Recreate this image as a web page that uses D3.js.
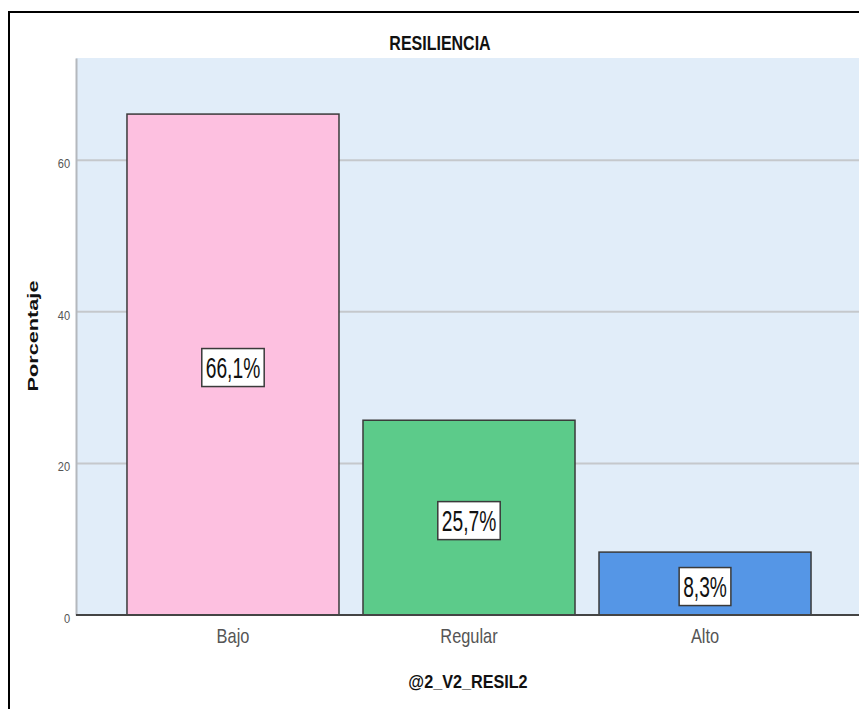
<!DOCTYPE html>
<html>
<head>
<meta charset="utf-8">
<script src="https://cdn.jsdelivr.net/npm/d3@7"></script>
<style>
  body { margin: 0; background: #fff; }
  svg { display: block; }
</style>
</head>
<body>
<div id="container"></div>
<script>
///data
const categories = ["Bajo", "Regular", "Alto"];
const percents = [66.1, 25.7, 8.3];
const labels = ["66,1%", "25,7%", "8,3%"];
const yTicks = [0, 20, 40, 60];
const barColors = ["#fdc0e0", "#5ccb8a", "#5596e6"];

///size
let w = 859,
  h = 709,
  plotL = 76,
  plotR = 862,
  plotT = 58,
  plotB = 615;

let svg = d3.select("#container").
  append("svg").
  attr("width", w).
  attr("height", h);

///outer frame
svg.append("rect").
  attr("x", 9).
  attr("y", 12).
  attr("width", 880).
  attr("height", 720).
  attr("fill", "none").
  attr("stroke", "#000").
  attr("stroke-width", 2);

///scales
let x = d3.scaleBand().
  domain(categories).
  range([plotL, plotR]).
  paddingInner(0.1017).
  paddingOuter(0.216);

let y = d3.scaleLinear().
  domain([0, 73.5]).
  range([plotB, plotT]);

///plot background
svg.append("rect").
  attr("x", plotL).
  attr("y", plotT).
  attr("width", plotR - plotL).
  attr("height", plotB - plotT).
  attr("fill", "#e1edf9");

///gridlines
svg.append("g").
  selectAll("line").
  data(yTicks.filter(d => d > 0)).
  enter().
  append("line").
  attr("x1", plotL).
  attr("x2", plotR).
  attr("y1", d => y(d)).
  attr("y2", d => y(d)).
  attr("stroke", "#c5c8cc").
  attr("stroke-width", 2);

///y axis
let yAxis = d3.axisLeft(y).tickValues(yTicks).tickSize(0).tickPadding(6);
let yG = svg.append("g").
  attr("transform", "translate(" + plotL + ",0)").
  call(yAxis);
yG.select(".domain").attr("stroke", "#b4b8bd").attr("stroke-width", 2);
yG.selectAll("text").
  attr("font-family", "Liberation Sans, Arial, sans-serif").
  attr("font-size", 13).
  attr("fill", "#555").
  attr("x", -7).
  attr("dy", "0.55em").
  attr("transform", "scale(0.85,1)");

///bars
svg.append("g").
  selectAll("rect").
  data(percents).
  enter().
  append("rect").
  attr("x", (d, i) => x(categories[i])).
  attr("y", d => y(d)).
  attr("width", x.bandwidth()).
  attr("height", d => y(0) - y(d)).
  attr("fill", (d, i) => barColors[i]).
  attr("stroke", "#3a3a3a").
  attr("stroke-width", 1.5);

///x axis line
svg.append("line").
  attr("x1", plotL).
  attr("x2", plotR).
  attr("y1", plotB).
  attr("y2", plotB).
  attr("stroke", "#444").
  attr("stroke-width", 2);

///x tick labels
svg.append("g").
  selectAll("text").
  data(categories).
  enter().
  append("text").
  attr("transform", d => "translate(" + (x(d) + x.bandwidth() / 2) + ",643) scale(0.82,1)").
  attr("text-anchor", "middle").
  attr("font-family", "Liberation Sans, Arial, sans-serif").
  attr("font-size", 20).
  attr("fill", "#555").
  text(d => d);

///value labels with boxes
let lab = svg.append("g").
  selectAll("g").
  data(percents).
  enter().
  append("g").
  attr("transform", (d, i) => "translate(" + (x(categories[i]) + x.bandwidth() / 2) + "," + ((y(d) + y(0)) / 2 + 3) + ")");

lab.append("rect").attr("class", "box");
lab.append("text").
  attr("text-anchor", "middle").
  attr("dy", "0.36em").
  attr("transform", "scale(0.64,1)").
  attr("font-family", "Liberation Sans, Arial, sans-serif").
  attr("font-size", 30).
  attr("fill", "#111").
  text((d, i) => labels[i]);

lab.each(function () {
  let g = d3.select(this);
  let bw = g.select("text").node().getComputedTextLength() * 0.64;
  g.select("rect").
    attr("x", -bw / 2 - 4).
    attr("y", -19).
    attr("width", bw + 8).
    attr("height", 38).
    attr("fill", "#fff").
    attr("stroke", "#3a3a3a").
    attr("stroke-width", 1.5);
});

///chart title
svg.append("text").
  attr("transform", "translate(440,50) scale(0.8,1)").
  attr("text-anchor", "middle").
  attr("font-family", "Liberation Sans, Arial, sans-serif").
  attr("font-weight", "bold").
  attr("font-size", 20).
  attr("fill", "#111").
  text("RESILIENCIA");

///x axis title
svg.append("text").
  attr("transform", "translate(468,688) scale(0.9,1)").
  attr("text-anchor", "middle").
  attr("font-family", "Liberation Sans, Arial, sans-serif").
  attr("font-weight", "bold").
  attr("font-size", 18).
  attr("fill", "#111").
  text("@2_V2_RESIL2");

///y axis title
svg.append("text").
  attr("transform", "translate(38,336) rotate(-90) scale(1.55,1)").
  attr("text-anchor", "middle").
  attr("font-family", "Liberation Sans, Arial, sans-serif").
  attr("font-weight", "bold").
  attr("font-size", 14).
  attr("fill", "#111").
  text("Porcentaje");
</script>
</body>
</html>
